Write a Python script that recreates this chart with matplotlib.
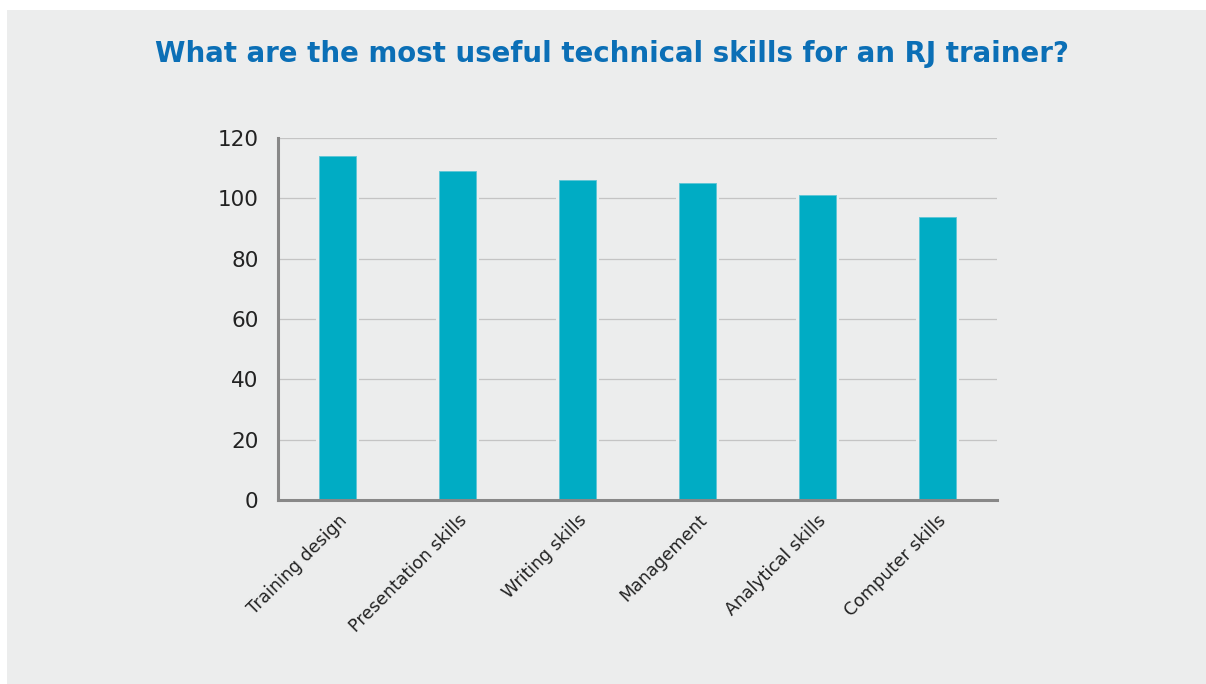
import matplotlib
matplotlib.use("Agg")
import matplotlib.pyplot as plt
from matplotlib.patches import Rectangle

# data
skills = ["Training design", "Presentation skills", "Writing skills",
          "Management", "Analytical skills", "Computer skills"]
counts = [114, 109, 106, 105, 101, 94]
yticks = [0, 20, 40, 60, 80, 100, 120]

bg = "#ECEDED"
bar_col = "#00ACC4"

plt.rcParams["font.family"] = ["DejaVu Sans"]

fig = plt.figure(figsize=(12.06, 6.84), dpi=100, facecolor="white")
# grey panel behind everything (white strip at left and top)
fig.patches.append(Rectangle((7 / 1206, 0), 1, 1 - 10 / 684, transform=fig.transFigure,
                             facecolor=bg, edgecolor="none", zorder=-10))

ax = fig.add_axes([0.2305, 0.269, 0.5962, 0.529])
ax.set_facecolor(bg)
ax.patch.set_alpha(0)

x = range(len(skills))
# wider background-coloured bars make the small gaps in the gridlines
ax.bar(x, counts, width=0.36, color=bg, linewidth=0, zorder=2)
ax.bar(x, counts, width=0.31, color=bar_col, edgecolor="#5cc6d6", linewidth=0.6, zorder=3)

ax.set_xlim(-0.5, len(skills) - 0.5)
ax.set_ylim(0, 120)
ax.set_yticks(yticks)
ax.yaxis.grid(True, color="#c4c4c4", linewidth=0.9, zorder=0)
ax.set_axisbelow(True)

for s in ["top", "right"]:
    ax.spines[s].set_visible(False)
for s in ["left", "bottom"]:
    ax.spines[s].set_color("#888888")
    ax.spines[s].set_linewidth(2.2)
    ax.spines[s].set_zorder(5)

ax.tick_params(axis="y", length=0, pad=14, labelsize=15.5, labelcolor="#222222")
ax.tick_params(axis="x", length=0, pad=8, labelsize=12.5, labelcolor="#222222")
ax.set_xticks(list(x))
ax.set_xticklabels(skills, rotation=45, ha="right", va="top", rotation_mode="anchor")

fig.text(0.507, 0.921, "What are the most useful technical skills for an RJ trainer?",
         ha="center", va="center", fontsize=19.9, fontweight="bold", color="#0B6FB6")

fig.savefig("out.png", dpi=100, facecolor="white")
